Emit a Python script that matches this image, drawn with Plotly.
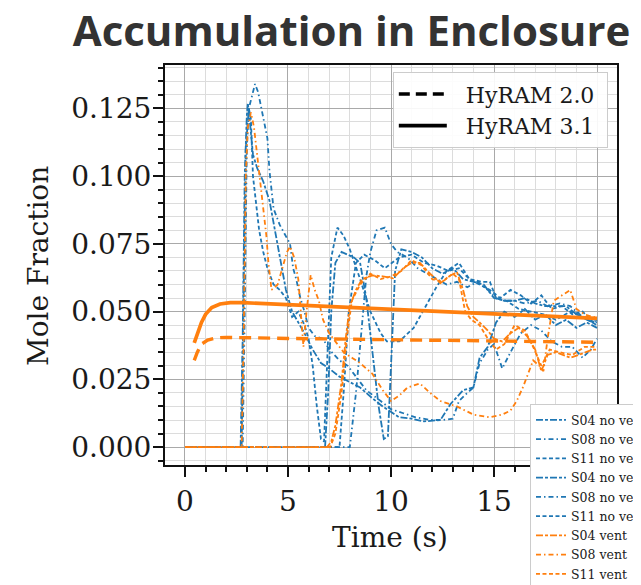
import plotly.graph_objects as go

# ---------------- data ----------------
# HyRAM model predictions (vent case)
h31_t = [0.45, 0.6, 0.8, 1.0, 1.3, 1.7, 2.2, 2.8, 5, 10, 15, 20]
h31_v = [0.0385, 0.042, 0.046, 0.049, 0.0515, 0.0528, 0.0533, 0.0533, 0.0526, 0.0510, 0.0494, 0.0475]
h20_t = [0.45, 0.6, 0.8, 1.1, 1.5, 2.0, 5, 10, 15, 20]
h20_v = [0.032, 0.035, 0.038, 0.0395, 0.0403, 0.0405, 0.0401, 0.0396, 0.0391, 0.0387]

# experiments, no vent (blue)
b1_t = [0, 2.7, 2.8, 2.9, 3.0, 3.05, 3.15, 3.3, 3.5, 3.8, 4.1, 4.3, 4.6, 4.9, 5.2,
        5.5, 5.8, 6.2, 6.6, 7.0, 7.5, 8.0, 8.5, 9.1, 9.6, 10.4, 11.0, 11.6, 12.4, 12.9,
        13.5, 14.0, 14.3, 14.7, 15.1, 15.5, 16.0, 16.5, 17.0, 17.5, 18.0, 18.5, 19.0, 19.5, 20.0]
b1_v = [0, 0, 0.04, 0.1, 0.122, 0.127, 0.12, 0.108, 0.103, 0.098, 0.091, 0.083, 0.07, 0.058, 0.05,
        0.046, 0.042, 0.036, 0.031, 0.029, 0.026, 0.024, 0.022, 0.018, 0.015, 0.011, 0.0105, 0.0095, 0.01, 0.016,
        0.021, 0.022, 0.033, 0.037, 0.046, 0.05, 0.048, 0.051, 0.047, 0.049, 0.045, 0.047, 0.044, 0.046, 0.044]

b2_t = [0, 2.8, 2.9, 3.0, 3.1, 3.25, 3.4, 3.55, 3.7, 3.9, 4.0, 4.1, 4.3, 4.6, 4.8,
        5.1, 5.25, 5.4, 5.6, 5.8, 6.0, 6.3, 6.7, 7.0, 7.5, 7.9, 8.3, 8.8, 9.5, 10.0,
        10.6, 11.2, 11.9, 12.5, 13.0, 13.3, 13.7, 14.0, 14.3, 14.7, 15.0, 15.4, 15.8, 16.3, 16.8,
        17.3, 17.8, 18.3, 18.8, 19.3, 19.7, 20.0]
b2_v = [0, 0, 0.05, 0.11, 0.125, 0.13, 0.134, 0.131, 0.125, 0.118, 0.114, 0.102, 0.088, 0.082, 0.079,
        0.075, 0.066, 0.062, 0.055, 0.05, 0.044, 0.041, 0.04, 0.036, 0.032, 0.03, 0.026, 0.021, 0.017, 0.014,
        0.0125, 0.011, 0.01, 0.01, 0.0105, 0.017, 0.02, 0.022, 0.031, 0.036, 0.038, 0.029, 0.035, 0.042, 0.045,
        0.043, 0.039, 0.037, 0.037, 0.033, 0.036, 0.04]

b3_t = [0, 2.75, 2.85, 2.95, 3.1, 3.2, 3.3, 3.45, 3.6, 3.8, 4.0, 4.3, 4.6, 4.9, 5.2,
        5.5, 5.8, 6.0, 6.2, 6.4, 6.6, 6.75, 6.9, 7.1, 7.4, 7.7, 8.0, 8.5, 9.0, 9.5,
        9.8, 10.4, 11.1, 11.7, 12.2, 12.7, 13.3, 13.8, 14.3, 14.8, 15.3, 15.8, 16.3, 16.8, 17.3,
        17.8, 18.3, 18.8, 19.3, 19.8, 20.0]
b3_v = [0, 0, 0.06, 0.11, 0.125, 0.121, 0.1, 0.09, 0.08, 0.072, 0.066, 0.06, 0.058, 0.055, 0.048,
        0.05, 0.045, 0.04, 0.03, 0.015, 0.003, 0.002, 0.03, 0.07, 0.081, 0.078, 0.073, 0.062, 0.05, 0.042,
        0.039, 0.039, 0.044, 0.052, 0.059, 0.065, 0.068, 0.062, 0.06, 0.058, 0.055, 0.058, 0.056, 0.053, 0.056,
        0.051, 0.052, 0.049, 0.05, 0.046, 0.047]

b4_t = [0, 6.8, 6.95, 7.1, 7.3, 7.6, 7.9, 8.2, 8.5, 8.8, 9.1, 9.4, 9.65, 9.85, 10.0,
        10.2, 10.5, 11.0, 11.5, 12.0, 12.5, 13.0, 13.5, 14.0, 14.5, 15.0, 15.5, 16.0, 16.5, 17.0,
        17.5, 18.0, 18.5, 19.0, 19.5, 20.0]
b4_v = [0, 0, 0.02, 0.05, 0.068, 0.072, 0.071, 0.07, 0.068, 0.055, 0.035, 0.015, 0.003, 0.004, 0.03,
        0.065, 0.073, 0.072, 0.07, 0.066, 0.064, 0.066, 0.062, 0.061, 0.06, 0.055, 0.054, 0.054, 0.055, 0.053,
        0.052, 0.052, 0.052, 0.049, 0.047, 0.046]

b5_t = [0, 8.0, 8.3, 8.6, 8.8, 9.0, 9.3, 9.7, 10.0, 10.3, 10.8, 11.3, 12.0, 12.7, 13.2,
        13.7, 14.2, 14.7, 15.1, 15.5, 16.0, 16.5, 17.1, 17.6, 18.2, 18.7, 19.3, 19.8, 20.0]
b5_v = [0, 0, 0.02, 0.045, 0.063, 0.072, 0.08, 0.081, 0.075, 0.072, 0.07, 0.066, 0.063, 0.06, 0.061,
        0.059, 0.061, 0.058, 0.055, 0.054, 0.054, 0.053, 0.054, 0.052, 0.053, 0.052, 0.048, 0.046, 0.047]

b6_t = [0, 7.5, 7.7, 7.95, 8.3, 8.7, 9.2, 9.7, 10.4, 11.0, 11.6, 12.2, 12.8, 13.3, 13.8,
        14.4, 14.8, 15.1, 15.6, 16.2, 16.8, 17.4, 18.0, 18.7, 19.3, 19.8, 20.0]
b6_v = [0, 0, 0.02, 0.05, 0.068, 0.071, 0.069, 0.066, 0.07, 0.071, 0.068, 0.067, 0.065, 0.066, 0.062,
        0.061, 0.061, 0.055, 0.054, 0.051, 0.05, 0.049, 0.047, 0.05, 0.048, 0.046, 0.045]

# experiments, vent (orange)
o1_t = [0, 6.9, 7.1, 7.3, 7.6, 7.8, 8.0, 8.3, 8.6, 9.1, 9.6, 10.1, 10.6, 11.0, 11.4,
        11.9, 12.4, 12.8, 13.2, 13.5, 13.7, 14.0, 14.3, 14.7, 15.0, 15.4, 15.8, 16.2, 16.6, 17.0,
        17.3, 17.6, 18.0, 18.4, 18.7, 19.1, 19.5, 19.8, 20.0]
o1_v = [0, 0, 0.002, 0.008, 0.024, 0.04, 0.052, 0.058, 0.062, 0.0634, 0.063, 0.0623, 0.066, 0.068, 0.068,
        0.064, 0.0605, 0.063, 0.0646, 0.058, 0.052, 0.048, 0.046, 0.043, 0.04, 0.039, 0.042, 0.044, 0.041, 0.036,
        0.028, 0.034, 0.035, 0.034, 0.033, 0.034, 0.035, 0.036, 0.036]

o2_t = [0, 2.75, 2.85, 2.95, 3.05, 3.2, 3.35, 3.5, 3.65, 3.8, 3.95, 4.05, 4.2, 4.5, 4.8,
        4.95, 5.1, 5.3, 5.5, 5.65, 5.75, 5.9, 6.1, 6.3, 6.5, 6.7, 7.0, 7.4, 7.7, 8.1,
        8.5, 9.1, 9.6, 10.0, 10.4, 10.8, 11.4, 11.9, 12.4, 13.2, 14.0, 14.8, 15.4, 15.8, 16.1,
        16.4, 16.9, 17.2, 17.4, 17.6, 17.9, 18.3, 18.7, 19.0, 19.4, 19.8, 20.0]
o2_v = [0, 0, 0.04, 0.1, 0.118, 0.1235, 0.118, 0.108, 0.1, 0.09, 0.078, 0.068, 0.058, 0.06, 0.068,
        0.072, 0.074, 0.07, 0.062, 0.045, 0.037, 0.05, 0.0635, 0.058, 0.054, 0.047, 0.042, 0.038, 0.035, 0.033,
        0.031, 0.027, 0.021, 0.017, 0.019, 0.022, 0.0235, 0.02, 0.017, 0.015, 0.012, 0.011, 0.012, 0.0135, 0.017,
        0.022, 0.032, 0.03, 0.028, 0.04, 0.054, 0.056, 0.058, 0.051, 0.049, 0.048, 0.048]

o3_t = [0, 7.05, 7.3, 7.6, 7.85, 8.1, 8.5, 9.0, 9.5, 10.0, 10.5, 11.0, 11.5, 12.0, 12.5,
        13.0, 13.3, 13.6, 13.9, 14.3, 14.7, 15.1, 15.5, 16.0, 16.5, 16.9, 17.3, 17.7, 18.2, 18.8,
        19.4, 20.0]
o3_v = [0, 0, 0.005, 0.02, 0.04, 0.054, 0.06, 0.064, 0.062, 0.063, 0.065, 0.069, 0.067, 0.062, 0.061,
        0.064, 0.062, 0.05, 0.047, 0.045, 0.04, 0.036, 0.038, 0.045, 0.043, 0.037, 0.03, 0.036, 0.035, 0.034,
        0.037, 0.037]

series_names = ["S04 no vent", "S08 no vent", "S11 no vent",
                "S04 no vent", "S08 no vent", "S11 no vent",
                "S04 vent", "S08 vent", "S11 vent"]
legend_model_names = ["HyRAM 2.0", "HyRAM 3.1"]
x_ticks = [0, 5, 10, 15, 20]
y_ticks = [0.0, 0.025, 0.05, 0.075, 0.1, 0.125]

# ---------------- figure ----------------
BLUE = "#1f77b4"
ORANGE = "#ff7f0e"
DASH_S04 = "7px,2px,3px,2px"
DASH_S08 = "5px,3px,1.5px,3px"
DASH_S11 = "4px,2.5px"
SERIF = "DejaVu Serif"
TXT = "#1a1a1a"
NB = "\u00a0"
FIG_W, FIG_H = 660, 610

fig = go.Figure()

exp = [
    (b1_t, b1_v, BLUE, DASH_S04), (b2_t, b2_v, BLUE, DASH_S08), (b3_t, b3_v, BLUE, DASH_S11),
    (b4_t, b4_v, BLUE, DASH_S04), (b5_t, b5_v, BLUE, DASH_S08), (b6_t, b6_v, BLUE, DASH_S11),
    (o1_t, o1_v, ORANGE, DASH_S04), (o2_t, o2_v, ORANGE, DASH_S08), (o3_t, o3_v, ORANGE, DASH_S11),
]
for (t, v, c, d), name in zip(exp, series_names):
    fig.add_trace(go.Scatter(x=t, y=v, mode="lines", name=name, legend="legend2",
                             line=dict(color=c, width=1.8, dash=d)))

# model lines
fig.add_trace(go.Scatter(x=h20_t, y=h20_v, mode="lines", showlegend=False,
                         line=dict(color=ORANGE, width=3.4, dash="12px,7px")))
fig.add_trace(go.Scatter(x=h31_t, y=h31_v, mode="lines", showlegend=False,
                         line=dict(color=ORANGE, width=3.7)))

# legend-only style keys
fig.add_trace(go.Scatter(x=[None], y=[None], mode="lines",
                         name=NB + NB + legend_model_names[0] + NB, legend="legend",
                         line=dict(color="black", width=3.4, dash="11px,6px")))
fig.add_trace(go.Scatter(x=[None], y=[None], mode="lines",
                         name=NB + NB + legend_model_names[1] + NB, legend="legend",
                         line=dict(color="black", width=3.7)))

axis_common = dict(
    showline=True, linecolor="#111111", linewidth=2, mirror=True,
    ticks="outside", ticklen=10, tickwidth=2, tickcolor="#111111",
    showgrid=True, gridcolor="#a9a9a9", gridwidth=1.4, zeroline=False,
    tickfont=dict(family=SERIF, size=28, color=TXT),
)

fig.update_xaxes(range=[-0.97, 20.97], tickvals=x_ticks, ticklabelstandoff=0,
                 minor=dict(dtick=1, tick0=0, ticks="outside", ticklen=5, tickwidth=1.5,
                            tickcolor="#111111", showgrid=True, gridcolor="#dcdcdc", gridwidth=1),
                 **axis_common)
fig.update_yaxes(range=[-0.0066, 0.141], tickvals=y_ticks, tickformat=".3f", ticklabelstandoff=-4,
                 minor=dict(dtick=0.005, tick0=0, ticks="outside", ticklen=5, tickwidth=1.5,
                            tickcolor="#111111", showgrid=True, gridcolor="#dcdcdc", gridwidth=1),
                 **axis_common)

fig.update_layout(
    width=FIG_W, height=FIG_H,
    margin=dict(l=157, r=FIG_W - 609, t=57, b=FIG_H - 457, autoexpand=False),
    paper_bgcolor="white", plot_bgcolor="white",
    title=dict(text="Accumulation in Enclosure", xref="container", yref="container",
               x=343.5 / FIG_W, xanchor="center", y=1 - 23.5 / FIG_H, yanchor="middle",
               font=dict(family="Open Sans", size=42, color="#333333", weight=700)),
    legend=dict(x=0.504, y=0.982, xanchor="left", yanchor="top",
                bgcolor="rgba(255,255,255,0.9)", bordercolor="#cccccc", borderwidth=1,
                font=dict(family=SERIF, size=22, color=TXT), itemwidth=48),
    legend2=dict(x=0.8075, y=0.152, xanchor="left", yanchor="top",
                 bgcolor="white", bordercolor="#cccccc", borderwidth=1,
                 font=dict(family=SERIF, size=12.5, color=TXT), itemwidth=30),
    annotations=[
        dict(text="Mole Fraction", xref="paper", yref="paper", x=-0.281, y=0.4975,
             xanchor="center", yanchor="middle", textangle=-90, showarrow=False,
             font=dict(family=SERIF, size=28, color=TXT)),
        dict(text="Time (s)", xref="paper", yref="paper", x=0.4978, y=-0.18,
             xanchor="center", yanchor="middle", showarrow=False,
             font=dict(family=SERIF, size=28, color=TXT)),
    ],
    shapes=[
        dict(type="path", xref="paper", yref="paper",
             path="M -0.365 1.02 L -0.354 1.02 L -0.354 -0.0075 L -0.365 -0.0075",
             line=dict(color="#222222", width=2)),
    ],
    showlegend=True,
)

fig.write_html("out.html")
